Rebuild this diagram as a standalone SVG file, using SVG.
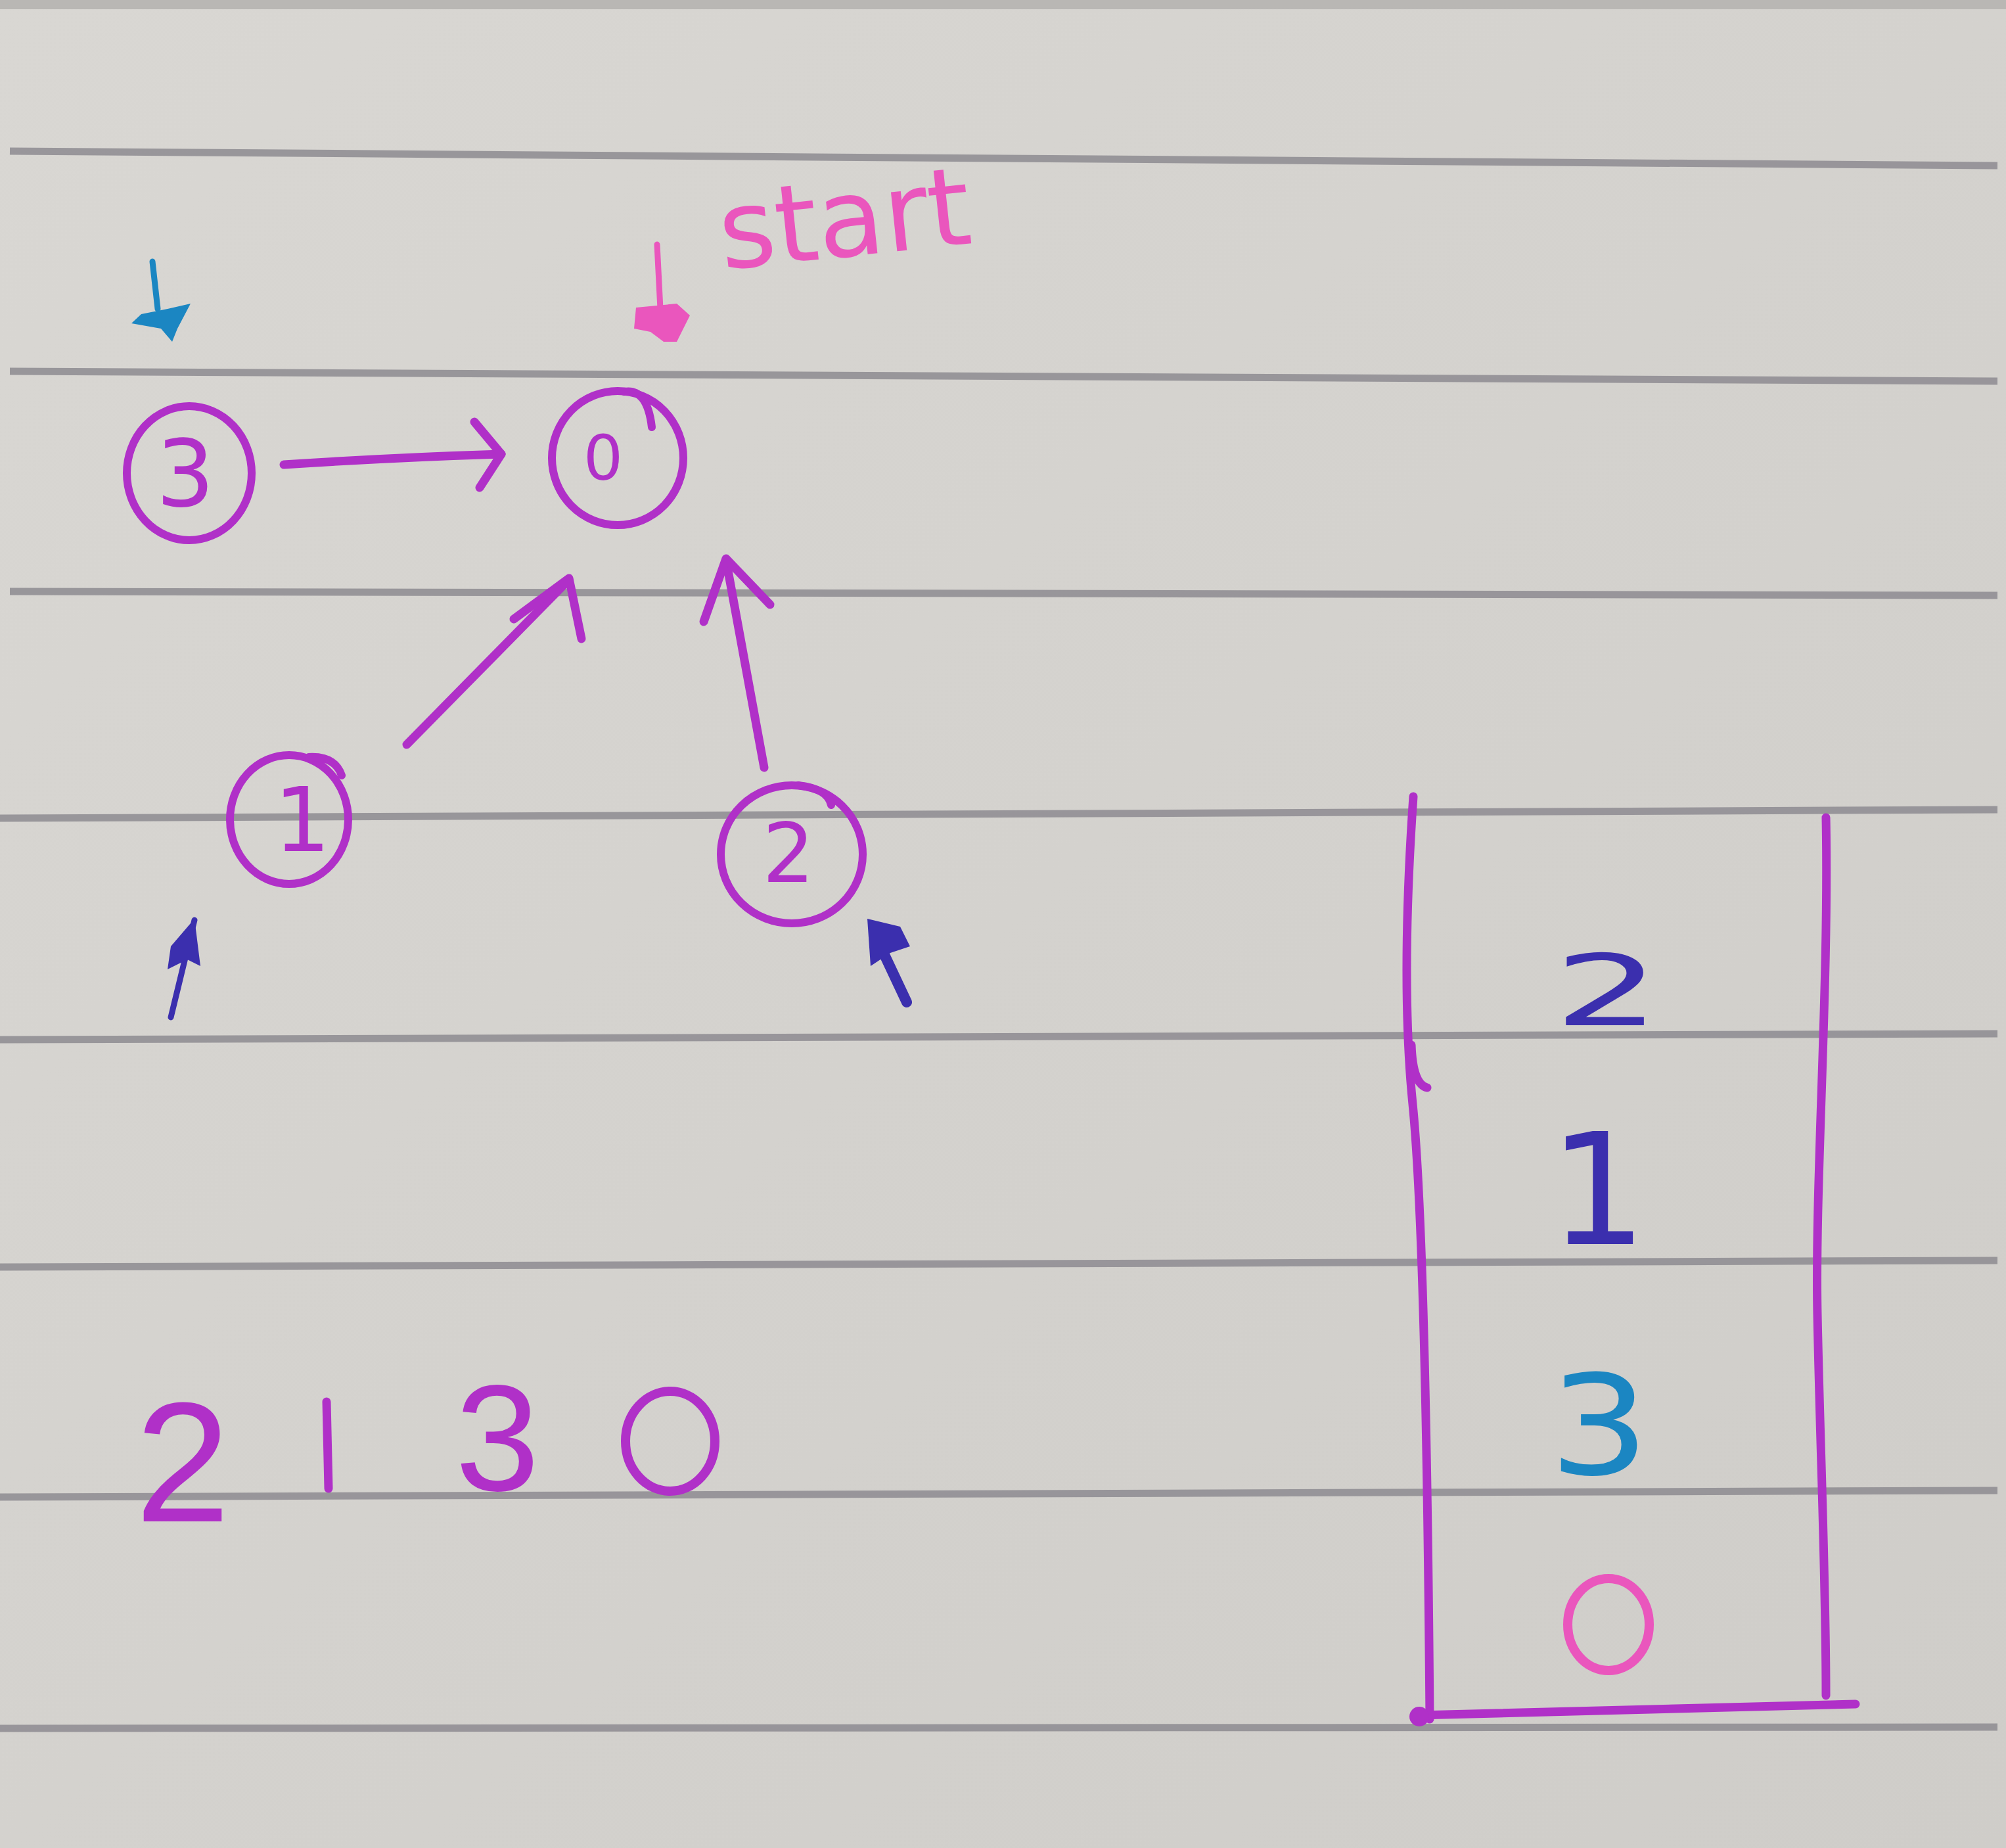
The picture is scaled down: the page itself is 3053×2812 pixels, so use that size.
<svg xmlns="http://www.w3.org/2000/svg" width="3053" height="2812" viewBox="0 0 3053 2812">
<style>
.rule{stroke:#8d8b90;stroke-width:11;fill:none;opacity:0.85}
.pen{stroke:#b030c8;stroke-width:13;fill:none;stroke-linecap:round;stroke-linejoin:round}
.node{stroke:#b030c8;stroke-width:12;fill:none;stroke-linecap:round}
.lbl{font-family:"DejaVu Sans",sans-serif;fill:#b030c8;text-anchor:middle}
.big{font-family:"Liberation Sans",sans-serif;fill:#b030c8;text-anchor:middle}
.stk{font-family:"DejaVu Sans",sans-serif;text-anchor:middle}
</style>
<defs>
<linearGradient id="paper" x1="0" y1="0" x2="1" y2="1">
<stop offset="0" stop-color="#d9d7d3"/>
<stop offset="1" stop-color="#cfcdc9"/>
</linearGradient>
</defs>
<rect width="3053" height="2812" fill="url(#paper)"/>
<rect width="3053" height="14" fill="#b9b7b4"/>
<g id="rules">
<line class="rule" x1="15" y1="230" x2="3040" y2="252"/>
<line class="rule" x1="15" y1="565" x2="3040" y2="580"/>
<line class="rule" x1="15" y1="900" x2="3040" y2="906"/>
<line class="rule" x1="0" y1="1245" x2="3040" y2="1232"/>
<line class="rule" x1="0" y1="1582" x2="3040" y2="1573"/>
<line class="rule" x1="0" y1="1928" x2="3040" y2="1918"/>
<line class="rule" x1="0" y1="2278" x2="3040" y2="2268"/>
<line class="rule" x1="0" y1="2630" x2="3040" y2="2628"/>
</g>
<g id="connectors">
<g id="e3-0"><path class="pen" d="M432 707 Q600 696 763 691"/><path class="pen" d="M722 642 L763 691 L730 742"/></g>
<g id="e1-0"><path class="pen" d="M619 1133 L866 882"/><path class="pen" d="M782 942 L866 880 L885 972"/></g>
<g id="e2-0"><path class="pen" d="M1163 1168 L1105 852"/><path class="pen" d="M1071 946 L1105 850 L1172 920"/></g>
</g>
<g id="node3"><ellipse class="node" cx="288" cy="720" rx="95" ry="102"/><text class="lbl" x="282" y="770" font-size="140">3</text></g>
<g id="node0"><ellipse class="node" cx="940" cy="697" rx="100" ry="102"/><path class="node" d="M950 596 Q985 590 992 650"/><text class="lbl" x="918" y="730" font-size="95">0</text></g>
<g id="node1"><ellipse class="node" cx="440" cy="1247" rx="90" ry="98"/><path class="node" d="M470 1152 Q510 1150 520 1180"/><text class="lbl" x="460" y="1295" font-size="135">1</text></g>
<g id="node2"><ellipse class="node" cx="1205" cy="1300" rx="108" ry="105"/><path class="node" d="M1215 1195 Q1260 1200 1265 1225"/><text class="lbl" x="1200" y="1342" font-size="125">2</text></g>
<g id="marker-blue">
<path d="M232 398 L240 470" stroke="#1b86c2" stroke-width="9" stroke-linecap="round" fill="none"/>
<path d="M215 478 L255 470 L290 462 L270 500 L262 520 L245 500 L200 492 Z" fill="#1b86c2"/>
</g>
<g id="marker-start">
<path d="M1000 372 L1005 470" stroke="#ea56bd" stroke-width="9" stroke-linecap="round" fill="none"/>
<path d="M968 468 L1030 462 L1050 480 L1030 520 L1010 520 L990 505 L965 500 Z" fill="#ea56bd"/>
<text x="1100" y="410" font-family="DejaVu Sans,sans-serif" font-size="165" fill="#ea56bd" transform="rotate(-6 1100 410)">start</text>
</g>
<g id="marker-1">
<path d="M260 1548 L296 1400" stroke="#3b2fae" stroke-width="9" stroke-linecap="round" fill="none"/>
<path d="M296 1398 L305 1470 L285 1460 L255 1475 L260 1440 Z" fill="#3b2fae"/>
</g>
<g id="marker-2">
<path d="M1380 1525 L1340 1440" stroke="#3b2fae" stroke-width="16" stroke-linecap="round" fill="none"/>
<path d="M1320 1398 L1370 1410 L1385 1440 L1355 1450 L1325 1470 Z" fill="#3b2fae"/>
</g>
<g id="order">
<text class="big" x="278" y="2315" font-size="260">2</text>
<path class="pen" d="M497 2133 L500 2265" stroke-width="15"/>
<text class="big" x="757" y="2268" font-size="230">3</text>
<ellipse cx="1020" cy="2193" rx="68" ry="76" fill="none" stroke="#b030c8" stroke-width="14"/>
</g>
<g id="stack">
<path class="pen" d="M2151 1212 C2138 1400 2138 1560 2150 1680 S2172 2100 2176 2616"/>
<path class="pen" d="M2148 1590 Q2150 1650 2172 1655" stroke-width="7"/>
<path class="pen" d="M2779 1244 C2784 1500 2762 1800 2766 2000 S2779 2400 2779 2580"/>
<path class="pen" d="M2158 2610 L2824 2593" stroke-width="11"/>
<circle cx="2160" cy="2612" r="15" fill="#b030c8"/>
<text class="stk" x="2446" y="1560" font-size="150" fill="#3b2fae" textLength="163" lengthAdjust="spacingAndGlyphs">2</text>
<text class="stk" x="2432" y="1893" font-size="235" fill="#3b2fae">1</text>
<text class="stk" x="2434" y="2243" font-size="210" fill="#1b86c2" textLength="153" lengthAdjust="spacingAndGlyphs">3</text>
<ellipse cx="2448" cy="2472" rx="62" ry="70" fill="none" stroke="#ea56bd" stroke-width="14"/>
</g>
</svg>
